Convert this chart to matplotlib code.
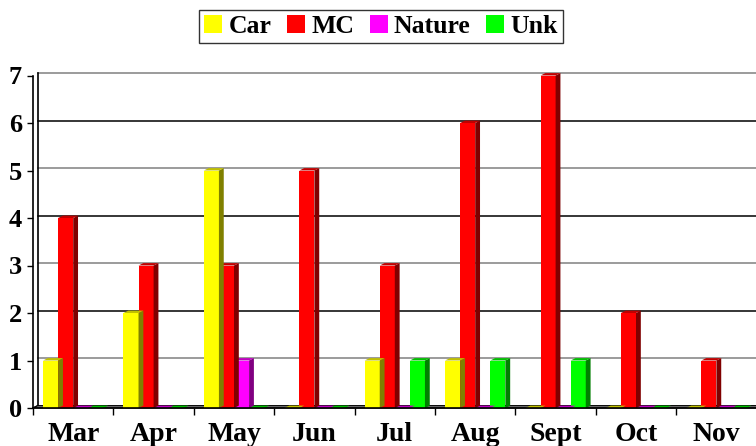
import matplotlib
matplotlib.use("Agg")
import matplotlib.pyplot as plt
from matplotlib.patches import Patch
import numpy as np

months = ["Mar", "Apr", "May", "Jun", "Jul", "Aug", "Sept", "Oct", "Nov"]
car = [1, 2, 5, 0, 1, 1, 0, 0, 0]
mc = [4, 3, 3, 5, 3, 6, 7, 2, 1]
nature = [0, 0, 1, 0, 0, 0, 0, 0, 0]
unk = [0, 0, 0, 0, 1, 1, 1, 0, 0]

series_names = ["Car", "MC", "Nature", "Unk"]
front_cols = ["#ffff00", "#ff0000", "#ff00ff", "#00ff00"]
side_cols = ["#808000", "#800000", "#800080", "#008000"]
top_cols = ["#c0c000", "#c00000", "#c000c0", "#00c000"]

plt.rcParams['font.family'] = ['Liberation Serif', 'DejaVu Serif']
plt.rcParams['font.weight'] = 'bold'

fig = plt.figure(figsize=(7.56, 4.46), dpi=100)
ax = fig.add_axes([33 / 756, 38 / 446, 9 * 80.4 / 756, 332.5 / 446])
ax.set_xlim(0, 9)
ax.set_ylim(0, 7)

dx = 0.06   # depth offset in category units
dy = 0.05   # depth offset in value units
bw = 0.1875
n = len(months)

# back wall gridlines
for k in range(1, 8):
    col = "#808080" if k % 2 == 1 else "black"
    ax.plot([dx, 9 + dx], [k + dy, k + dy], color=col, lw=1.1, clip_on=False, zorder=1)

# wall edge
ax.plot([dx, dx], [dy, 7 + dy], color="black", lw=1.2, clip_on=False, zorder=1)
ax.plot([0, dx], [0, dy], color="black", lw=1.0, clip_on=False, zorder=1)

# floor
ax.fill([0, dx, 9 + dx, 9], [0, dy, dy, 0], facecolor="#808080", edgecolor="black",
        lw=0.8, clip_on=False, zorder=1)

data = [car, mc, nature, unk]
for c in range(n):
    for i in reversed(range(4)):
        v = data[i][c]
        xl = c + 0.125 + i * bw
        xr = xl + bw
        ax.bar(xl, v, width=bw, align="edge", color=front_cols[i], lw=0, zorder=3)
        ax.fill([xr, xr + dx, xr + dx, xr], [0, dy, v + dy, v],
                color=side_cols[i], lw=0, zorder=3, clip_on=False)
        ax.fill([xl, xl + dx, xr + dx, xr], [v, v + dy, v + dy, v],
                color=top_cols[i], lw=0, zorder=3, clip_on=False)

for s in ["top", "right"]:
    ax.spines[s].set_visible(False)
ax.spines["left"].set_linewidth(1.2)
ax.spines["bottom"].set_linewidth(1.2)
ax.spines["left"].set_zorder(4)
ax.spines["bottom"].set_zorder(4)

ax.set_yticks(range(0, 8))
ax.tick_params(axis="y", direction="out", length=4, width=1, pad=4, labelsize=19)
ax.set_xticks(np.arange(0, 10))
ax.set_xticklabels([])
ax.tick_params(axis="x", which="major", direction="out", length=5, width=1)
ax.set_xticks(np.arange(n) + 0.5, minor=True)
ax.set_xticklabels(months, minor=True)
ax.tick_params(axis="x", which="minor", length=0, pad=10, labelsize=20)
for lab in ax.get_xticklabels(minor=True) + ax.get_yticklabels():
    lab.set_fontweight("bold")

handles = [Patch(facecolor=front_cols[i], edgecolor="none", label=series_names[i]) for i in range(4)]
leg = fig.legend(handles=handles, loc="center", bbox_to_anchor=(381 / 756, 1 - 26.5 / 446),
                 ncol=4, frameon=True, fancybox=False, handlelength=0.7,
                 handleheight=0.7, handletextpad=0.25, columnspacing=0.6, borderpad=0.2,
                 prop={"weight": "bold", "size": 18.5})
leg.get_frame().set_edgecolor("black")
leg.get_frame().set_linewidth(1.0)

fig.savefig("out.png", dpi=100)
